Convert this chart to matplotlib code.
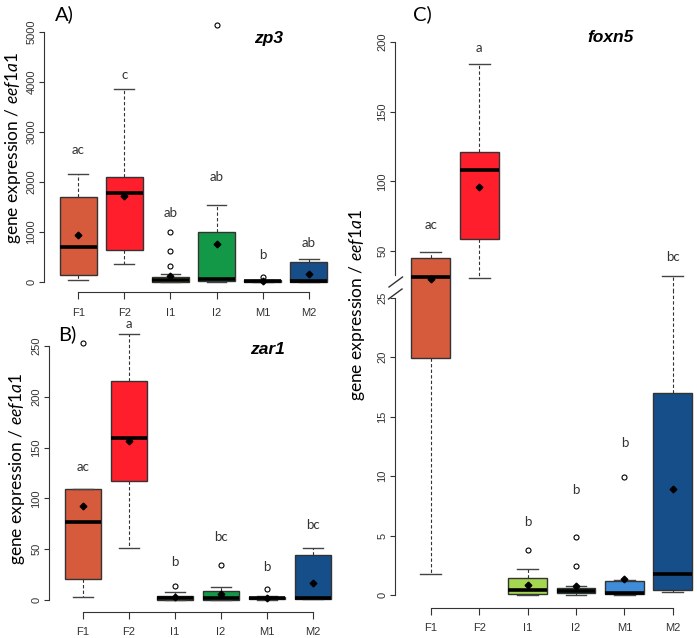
import matplotlib
matplotlib.use("Agg")
import matplotlib.pyplot as plt
from matplotlib.lines import Line2D

plt.rcParams['mathtext.fontset'] = 'custom'
plt.rcParams['mathtext.rm'] = 'Lato'
plt.rcParams['mathtext.it'] = 'Lato:italic'

groups = ["F1", "F2", "I1", "I2", "M1", "M2"]
colors = ['#D65A3C', '#FF1E2C', '#A5D651', '#139848', '#3F8DD8', '#164E8A']

# Panel A: zp3
a_wlo = [47, 367, 0, 0, 0, 0]
a_q1 = [140, 640, 5, 13, 3, 5]
a_med = [700, 1773, 47, 60, 13, 27]
a_q3 = [1700, 2093, 93, 993, 33, 400]
a_whi = [2167, 3867, 160, 1533, 40, 460]
a_mean = [947, 1727, 127, 767, 20, 160]
a_fliers = [[], [], [313, 613, 1000], [5147], [100], []]
a_letters = ["ac", "c", "ab", "ab", "b", "ab"]
a_letter_y = [2647, 4147, 1380, 2093, 533, 780]

# Panel B: zar1
b_wlo = [3.3, 51, 0, 0, 0.3, 0.8]
b_q1 = [21, 117, 0.3, 0.3, 0.8, 1.0]
b_med = [77, 159.6, 2, 2, 1.5, 2.3]
b_q3 = [109, 216, 4, 8.8, 3, 44.2]
b_whi = [109, 262, 7.5, 12.8, 4, 50.8]
b_mean = [92.4, 156, 3.3, 5.9, 2, 17]
b_fliers = [[253], [], [14], [34.4], [10.8], []]
b_letters = ["ac", "a", "b", "bc", "b", "bc"]
b_letter_y = [131, 272, 37, 61.6, 32.8, 73.7]

# Panel C: foxn5
c_wlo = [1.75, 30.6, 0, 0, 0, 0.27]
c_q1 = [19.9, 58.6, 0.08, 0.15, 0.05, 0.45]
c_med = [31.3, 108, 0.45, 0.35, 0.15, 1.8]
c_q3 = [45, 121, 1.4, 0.6, 1.2, 17]
c_whi = [49.3, 184, 2.2, 0.75, 1.25, 32]
c_mean = [30, 96, 0.84, 0.8, 1.35, 8.9]
c_fliers = [[], [], [3.8], [2.4, 4.9], [9.9], []]
c_letters = ["ac", "a", "b", "b", "b", "bc"]
c_letter_y = [69, 196, 6.1, 8.8, 12.8, 45.6]
C_BREAK = 25

W, H = 697, 638
fig = plt.figure(figsize=(W / 100, H / 100), dpi=100)

def ax_at(l, t, r, b):
    return fig.add_axes([l / W, 1 - b / H, (r - l) / W, (b - t) / H])

TICKFONT = dict(family='Liberation Sans', size=8, color='#333333')
LETTERFONT = dict(family='Lato', size=9.5, color='#333333')

def make_stats(wlo, q1, med, q3, whi, mean, fliers):
    return [dict(whislo=wlo[i], q1=q1[i], med=med[i], q3=q3[i], whishi=whi[i],
                 mean=mean[i], fliers=fliers[i], label=groups[i]) for i in range(len(groups))]

def draw_boxes(ax, stats):
    res = ax.bxp(stats, positions=list(range(1, 7)), widths=0.8, capwidths=0.43,
                 patch_artist=True, showmeans=True,
                 boxprops=dict(edgecolor='#333333', linewidth=1.0),
                 medianprops=dict(color='black', linewidth=2.6),
                 whiskerprops=dict(color='#333333', linestyle=(0, (3, 2)), linewidth=0.8),
                 capprops=dict(color='#444444', linewidth=1.0),
                 flierprops=dict(marker='o', markerfacecolor='none', markeredgecolor='black',
                                 markersize=3.6, markeredgewidth=0.8),
                 meanprops=dict(marker='D', markerfacecolor='black', markeredgecolor='black',
                                markersize=3.4))
    for patch, c in zip(res['boxes'], colors):
        patch.set_facecolor(c)
    return res

def style_axis(ax, ybounds, yticks, xaxis=True):
    for s in ['top', 'right']:
        ax.spines[s].set_visible(False)
    ax.spines['left'].set_bounds(*ybounds)
    ax.spines['left'].set_color('#333333')
    ax.set_yticks(yticks)
    ax.set_yticklabels([str(v) for v in yticks], rotation=90, va='center', **TICKFONT)
    ax.tick_params(axis='y', length=3.5, width=0.8, color='#333333', pad=2)
    if xaxis:
        ax.spines['bottom'].set_bounds(1, 6)
        ax.spines['bottom'].set_color('#333333')
        ax.set_xticks(range(1, 7))
        ax.set_xticklabels(groups, **TICKFONT)
        ax.tick_params(axis='x', length=5, width=0.8, color='#333333', pad=6)
    else:
        ax.spines['bottom'].set_visible(False)
        ax.set_xticks([])
    ax.set_facecolor('none')

def letters(ax, ys, labs, cond=lambda y: True):
    for i, (y, t) in enumerate(zip(ys, labs)):
        if cond(y):
            ax.text(i + 1, y, t, ha='center', va='center', clip_on=False, **LETTERFONT)

ylabel = r"gene expression / $\it{eef1a1}$"
LABFONT = dict(family='Lato', size=12.5, color='black')

# ---- Panel A
axA = ax_at(44, 14.4, 343, 292.3)
draw_boxes(axA, make_stats(a_wlo, a_q1, a_med, a_q3, a_whi, a_mean, a_fliers))
axA.set_xlim(0.26, 6.74)
axA.set_ylim(-206, 5353)
style_axis(axA, (0, 5000), [0, 1000, 2000, 3000, 4000, 5000])
letters(axA, a_letter_y, a_letters)

# ---- Panel B
axB = ax_at(49, 323, 347, 612)
draw_boxes(axB, make_stats(b_wlo, b_q1, b_med, b_q3, b_whi, b_mean, b_fliers))
axB.set_xlim(0.26, 6.74)
axB.set_ylim(-11.8, 272.6)
style_axis(axB, (0, 250), [0, 50, 100, 150, 200, 250])
letters(axB, b_letter_y, b_letters)

# ---- Panel C (broken axis)
statsC = make_stats(c_wlo, c_q1, c_med, c_q3, c_whi, c_mean, c_fliers)
axCl = ax_at(395, 291, 697, 608)
draw_boxes(axCl, statsC)
axCl.set_xlim(0.26, 6.5)
axCl.set_ylim(-1.09, 25.55)
style_axis(axCl, (0, 25), [0, 5, 10, 15, 20, 25])
letters(axCl, c_letter_y, c_letters, cond=lambda y: y < C_BREAK)

axCu = ax_at(395, 35, 697, 291)
draw_boxes(axCu, statsC)
axCu.set_xlim(0.26, 6.5)
axCu.set_ylim(21.3, 205.1)
style_axis(axCu, (32.8, 200), [50, 100, 150, 200], xaxis=False)
letters(axCu, c_letter_y, c_letters, cond=lambda y: y >= C_BREAK)

# break marks
for (x0, y0, x1, y1) in [(389, 287, 402.5, 277), (388.5, 299, 402, 289)]:
    fig.add_artist(Line2D([x0 / W, x1 / W], [1 - y0 / H, 1 - y1 / H], color='#333333', lw=1.0))

# gene names
GENEFONT = dict(size=12.5, weight='bold', style='italic', family='Liberation Sans')
fig.text(269 / W, 1 - 38 / H, "zp3", ha='center', va='center', **GENEFONT)
fig.text(267 / W, 1 - 350 / H, "zar1", ha='center', va='center', **GENEFONT)
fig.text(611 / W, 1 - 38 / H, "foxn5", ha='center', va='center', **GENEFONT)

# panel letters
PFONT = dict(family='Lato', size=14.5, color='black')
fig.text(55 / W, 1 - 14 / H, "A)", ha='left', va='center', **PFONT)
fig.text(58 / W, 1 - 334 / H, "B)", ha='left', va='center', **PFONT)
fig.text(413 / W, 1 - 14 / H, "C)", ha='left', va='center', **PFONT)

# y labels
fig.text(13 / W, 1 - 148 / H, ylabel, rotation=90, ha='center', va='center', **LABFONT)
fig.text(17 / W, 1 - 469 / H, ylabel, rotation=90, ha='center', va='center', **LABFONT)
fig.text(357 / W, 1 - 305 / H, ylabel, rotation=90, ha='center', va='center', **LABFONT)

fig.savefig("out.png", dpi=100)
